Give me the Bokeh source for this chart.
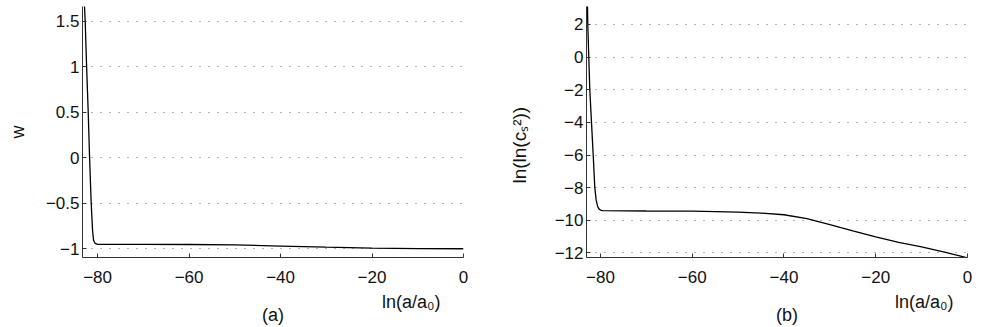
from bokeh.plotting import figure
from bokeh.layouts import row
from bokeh.models import Range1d, FixedTicker, LinearAxis, Title
from bokeh.embed import file_html
from bokeh.resources import INLINE

# ---------------- data ----------------
# panel (a): w versus ln(a/a0)
w_lna = [-82.95, -82.71, -82.40, -82.05, -81.75, -81.40, -81.10, -80.87, -80.55,
         -80.00, -70.0, -60.0, -50.0, -40.0, -30.0, -20.0, -10.0, 0.0]
w_val = [1.75, 1.5, 1.0, 0.5, 0.0, -0.5, -0.8, -0.91, -0.94,
         -0.951, -0.952, -0.953, -0.958, -0.970, -0.983, -0.993, -0.998, -1.0]

# panel (b): ln(ln(c_s^2)) versus ln(a/a0)
cs_lna = [-82.85, -82.77, -82.55, -82.33, -81.96, -81.59, -81.24, -80.95, -80.65,
          -80.35, -79.9, -79.5, -70.0, -60.0, -50.0, -45.0, -40.0, -35.0, -30.0,
          -25.0, -20.0, -15.0, -10.0, -5.0, 0.0]
cs_val = [3.3, 2.0, 0.0, -2.0, -4.0, -6.0, -8.0, -8.75, -9.12,
          -9.30, -9.39, -9.41, -9.43, -9.44, -9.50, -9.56, -9.66, -9.90, -10.26,
          -10.65, -11.02, -11.35, -11.63, -11.95, -12.3]

x_ticks = [-80, -60, -40, -20, 0]
x_tick_labels = ["\u221280", "\u221260", "\u221240", "\u221220", "0"]
w_ticks = [-1, -0.5, 0, 0.5, 1, 1.5]
w_tick_labels = ["\u22121", "\u22120.5", "0", "0.5", "1", "1.5"]
cs_ticks = [-12, -10, -8, -6, -4, -2, 0, 2]
cs_tick_labels = ["\u221212", "\u221210", "\u22128", "\u22126", "\u22124", "\u22122", "0", "2"]

x_label = "ln(a/a\u2080)"
w_label = "w"
cs_label = "ln(ln(c\u209b\u00b2))"
panel_a = "(a)"
panel_b = "(b)"

FONT = "Liberation Sans"
H = 327
TOP = 6
FRAME_BOTTOM = 257
TICK_FS = "17px"
LAB_FS = "18px"
NB = "\u00a0"


def make_panel(width, bl, br, xr, yr, xs, ys, yt, ytl, ylab, ylab_fs, ylab_standoff,
               xlab_offset, tag):
    p = figure(width=width, height=H, x_range=Range1d(*xr), y_range=Range1d(*yr),
               output_backend="svg", toolbar_location=None,
               min_border_left=bl, min_border_right=br,
               min_border_top=TOP, min_border_bottom=H - FRAME_BOTTOM)
    p.outline_line_color = None
    p.background_fill_color = "white"
    p.border_fill_color = "white"
    p.xgrid.visible = False
    p.ygrid.ticker = FixedTicker(ticks=yt)
    p.ygrid.grid_line_color = "#666666"
    p.ygrid.grid_line_dash = "1 8"
    p.ygrid.grid_line_width = 1
    for ax, ticks, labels in ((p.xaxis[0], x_ticks, x_tick_labels), (p.yaxis[0], yt, ytl)):
        ax.ticker = FixedTicker(ticks=ticks)
        ax.major_label_overrides = {t: l for t, l in zip(ticks, labels)}
        ax.major_label_text_font = FONT
        ax.major_label_text_font_size = TICK_FS
        ax.major_label_text_color = "#111111"
        ax.axis_line_color = "#333333"
        ax.major_tick_line_color = "#333333"
        ax.major_tick_in = 4
        ax.major_tick_out = 0
        ax.minor_tick_line_color = None
        ax.axis_label_text_font = FONT
        ax.axis_label_text_font_size = LAB_FS
        ax.axis_label_text_font_style = "normal"
        ax.axis_label_text_color = "#111111"
    p.yaxis.major_label_standoff = 3
    p.xaxis.major_label_standoff = 13
    p.yaxis.axis_label = ylab
    p.yaxis.axis_label_standoff = ylab_standoff
    p.yaxis.axis_label_text_font_size = ylab_fs
    # x label: right-aligned title under the tick labels
    p.add_layout(Title(text=x_label, align="right", offset=xlab_offset, standoff=8,
                       text_font=FONT, text_font_size=LAB_FS, text_font_style="normal",
                       text_color="#111111"), "below")
    # label-only axis carrying the panel tag
    tag_axis = LinearAxis(ticker=FixedTicker(ticks=[]), axis_line_color=None,
                          major_tick_line_color=None, minor_tick_line_color=None,
                          major_tick_in=0, major_tick_out=0, major_label_standoff=0,
                          axis_label=tag, axis_label_standoff=-11,
                          axis_label_text_font=FONT, axis_label_text_font_size=LAB_FS,
                          axis_label_text_font_style="normal",
                          axis_label_text_color="#111111")
    p.add_layout(tag_axis, "below")
    p.line(xs, ys, line_color="black", line_width=1.3)
    return p


xr_a = (-83.3, 0.0)
yr_a = (-1.096, 1.661)
xr_b = (-83.05, 0.0)
yr_b = (-12.28, 3.10)

pa = make_panel(490, 82, 27, xr_a, yr_a, w_lna, w_val, w_ticks, w_tick_labels,
                w_label, LAB_FS, 15, 23, panel_a)
pb = make_panel(491, 96, 14, xr_b, yr_b, cs_lna, cs_val, cs_ticks, cs_tick_labels,
                cs_label + NB * 5, "19px", 22, 14, NB * 4 + panel_b)

layout = row(pa, pb)
open("out.html", "w").write(file_html(layout, INLINE))
